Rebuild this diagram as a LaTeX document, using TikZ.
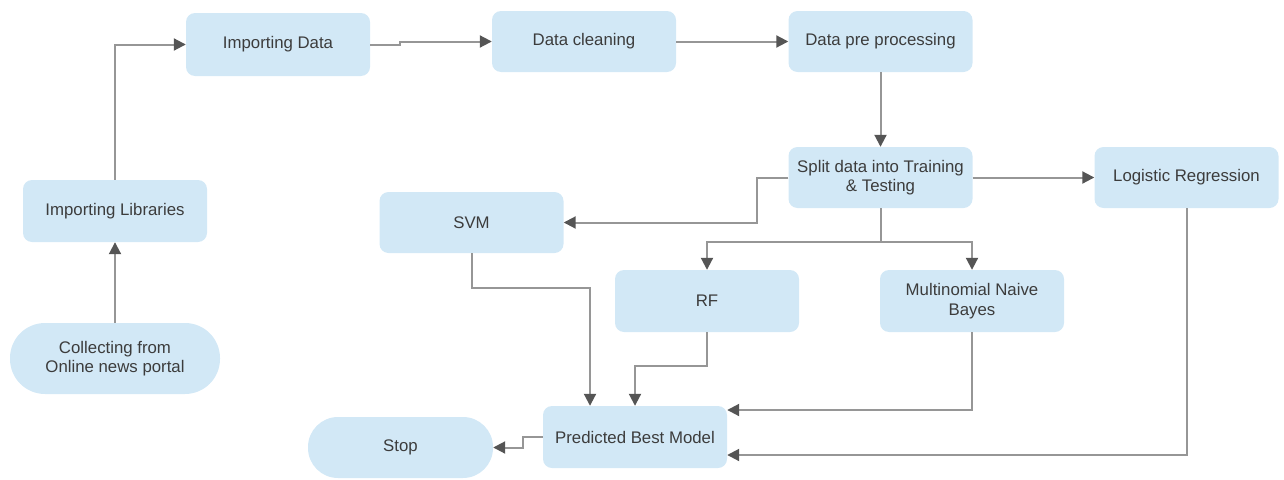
\documentclass[tikz,border=0pt]{standalone}
\usepackage{fontspec}
\setmainfont{Liberation Sans}
\usetikzlibrary{arrows.meta,calc}
\definecolor{boxfill}{RGB}{210,232,246}
\definecolor{linec}{RGB}{150,150,150}
\definecolor{tipc}{RGB}{85,85,85}
\definecolor{textc}{RGB}{60,60,60}
\begin{document}
\begin{tikzpicture}[x=1pt,y=-1pt,
  box/.style={draw=none, fill=boxfill, rounded corners=9pt, minimum width=184pt, minimum height=62pt, text=textc, font=\fontsize{16.8}{19.5}\selectfont, align=center, inner sep=0pt},
  term/.style={box, rounded corners=30pt},
  conn/.style={draw=linec, line width=2pt, -{Triangle[length=12pt,width=12pt,color=tipc,fill=tipc]}}]
\useasboundingbox (0,0) rectangle (1284,479);
\node[term, minimum width=210pt, minimum height=71pt, rounded corners=35pt] (collect) at (115,358.5) {Collecting from\\Online news portal};
\node[box] (libs) at (115,211) {Importing Libraries};
\node[box, minimum height=63pt] (idata) at (278,44.5) {Importing Data};
\node[box, minimum height=61pt] (clean) at (584,41.5) {Data cleaning};
\node[box, minimum height=61pt] (pre) at (880.5,41.5) {Data pre processing};
\node[box, minimum height=61pt] (split) at (880.5,177.5) {Split data into Training\\\& Testing};
\node[box, minimum height=61pt] (logit) at (1186.5,177.5) {Logistic Regression};
\node[box, minimum height=61pt] (svm) at (471.5,222.5) {SVM};
\node[box] (rf) at (707,301) {RF};
\node[box] (mnb) at (972,301) {Multinomial Naive\\Bayes};
\node[box] (pred) at (635,437) {Predicted Best Model};
\node[term, minimum width=185pt, minimum height=61pt] (stop) at (400.5,447.5) {Stop};

\draw[conn] (collect) -- (libs);
\draw[conn] (libs.north) |- (idata.west);
\draw[conn] (idata.east) -- ++(30,0) |- (clean.west);
\draw[conn] (clean) -- (pre);
\draw[conn] (pre) -- (split);
\draw[conn] (split) -- (logit);
\draw[conn] (split.west) -- ++(-31,0) |- (svm.east);
\draw[conn] (split.south) -- ++(0,34) -| (rf.north);
\draw[conn] (split.south) -- ++(0,34) -| (mnb.north);
\draw[conn] (svm.south) -- ++(0,35) -| ($(pred.north)+(-45,0)$);
\draw[conn] (rf.south) -- ++(0,34) -| (pred.north);
\draw[conn] (mnb.south) |- ($(pred.east)+(0,-27)$);
\draw[conn] (logit.south) |- ($(pred.east)+(0,18)$);
\draw[conn] (pred.west) -- ++(-20,0) |- (stop.east);
\end{tikzpicture}
\end{document}
